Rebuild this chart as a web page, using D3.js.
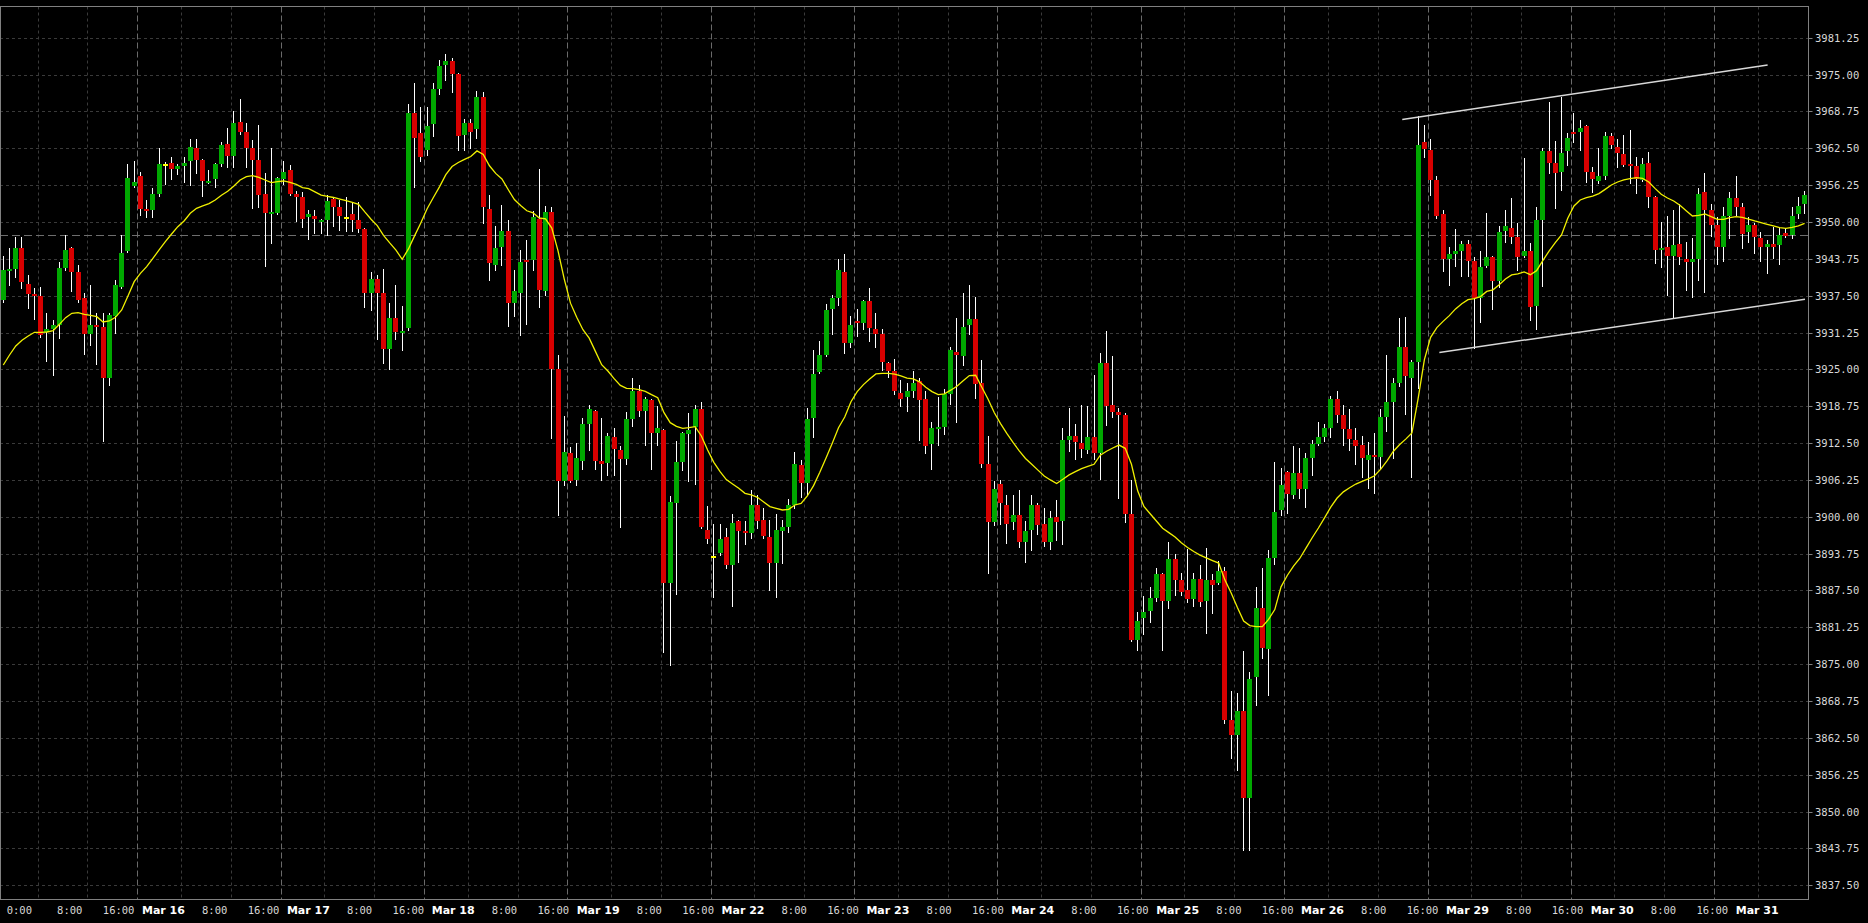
<!DOCTYPE html>
<html>
<head>
<meta charset="utf-8">
<script src="https://cdn.jsdelivr.net/npm/d3@7"></script>
<style>
  html, body { margin: 0; padding: 0; background: #000; }
  svg { display: block; }
</style>
</head>
<body>
<svg id="chart" width="1868" height="923"></svg>
<script>
// ---------------- DATA (hourly bars) ----------------
const opens = [
3936.77,3941.74,3942.03,3945.59,3939.48,3937.79,3937.45,3931.29,3931.85,3932.53,
3942.14,3945.59,3941.58,3937.05,3931.00,3932.53,3932.14,3923.60,3934.06,3939.03,
3945.14,3956.10,3957.80,3952.26,3952.03,3954.75,3959.83,3960.00,3959.04,3959.55,
3960.40,3962.55,3960.51,3956.67,3957.29,3959.83,3963.23,3961.19,3966.96,3965.32,
3962.60,3960.51,3954.75,3951.35,3951.58,3957.35,3958.82,3954.75,3954.18,3950.88,
3951.08,3949.99,3950.40,3953.81,3952.51,3950.88,3951.36,3950.40,3948.83,3937.93,
3940.32,3937.93,3928.39,3933.71,3931.25,3931.94,3968.46,3965.05,3962.12,3966.55,
3972.55,3976.57,3977.32,3975.07,3964.78,3966.75,3965.73,3971.18,3952.17,3942.70,
3945.77,3948.49,3936.23,3937.93,3943.59,3943.52,3950.54,3938.27,3951.70,3924.99,
3906.04,3910.81,3906.25,3909.45,3915.79,3917.97,3909.45,3909.06,3913.47,3911.33,
3909.86,3916.58,3921.33,3917.99,3919.81,3914.27,3914.72,3888.83,3902.39,3909.29,
3914.04,3915.28,3918.28,3897.76,3893.41,3893.80,3896.52,3891.83,3899.28,3897.59,
3897.25,3901.99,3899.45,3896.63,3892.11,3897.65,3898.32,3901.99,3908.78,3905.67,
3916.81,3924.61,3927.44,3935.24,3937.05,3941.57,3929.53,3933.20,3932.81,3936.59,
3931.79,3930.99,3926.02,3924.72,3920.94,3920.36,3921.35,3923.08,3919.99,3912.41,
3914.88,3915.31,3920.86,3927.95,3927.33,3932.57,3933.56,3922.71,3908.90,3899.03,
3905.63,3901.93,3899.03,3900.27,3895.64,3897.80,3901.93,3898.73,3895.77,3899.90,
3899.34,3913.03,3913.65,3912.53,3911.36,3913.46,3910.87,3926.16,3918.89,3917.78,
3917.28,3900.39,3879.12,3882.82,3884.05,3886.21,3890.22,3885.72,3892.87,3889.29,
3887.57,3886.09,3889.41,3885.66,3889.25,3888.73,3890.74,3865.52,3862.97,3867.09,
3852.37,3872.79,3884.61,3877.60,3892.93,3901.08,3907.56,3903.71,3907.39,3904.76,
3910.02,3912.38,3913.52,3915.10,3919.92,3917.29,3914.83,3912.99,3912.12,3909.58,
3910.45,3910.19,3916.85,3919.48,3922.73,3928.85,3923.60,3926.22,3963.63,3962.14,
3957.06,3951.36,3943.65,3944.53,3945.06,3946.28,3943.30,3937.17,3942.60,3944.09,
3939.97,3948.52,3948.92,3947.39,3944.23,3945.08,3935.75,3950.33,3962.03,3960.06,
3958.53,3962.09,3965.31,3965.31,3966.27,3958.53,3957.00,3957.79,3964.58,3962.66,
3961.53,3959.83,3959.49,3957.12,3959.94,3954.29,3945.25,3945.81,3944.23,3946.26,
3943.66,3943.27,3943.72,3955.03,3952.03,3949.49,3945.81,3951.01,3954.12,3952.59,
3948.35,3949.49,3947.34,3945.70,3946.26,3946.09,3948.07,3947.79,3951.35,3953.05];

const highs = [
3944.23,3945.53,3947.40,3947.40,3941.01,3938.75,3938.92,3934.51,3933.38,3943.27,
3947.79,3945.82,3942.71,3937.90,3939.31,3934.51,3934.62,3934.62,3940.16,3947.79,
3959.83,3960.40,3958.53,3953.73,3955.71,3962.49,3960.23,3961.08,3959.83,3961.08,
3964.02,3964.02,3960.63,3958.82,3959.95,3963.62,3965.88,3968.82,3970.80,3966.84,
3963.90,3966.45,3958.37,3962.49,3957.57,3960.34,3959.66,3955.26,3955.14,3952.11,
3952.04,3950.54,3954.63,3954.29,3953.74,3954.15,3953.26,3953.40,3949.04,3941.47,
3941.00,3942.02,3936.23,3939.30,3935.75,3970.09,3973.57,3969.48,3969.48,3973.57,
3977.45,3978.47,3977.79,3975.30,3967.44,3967.44,3972.21,3972.00,3954.63,3949.31,
3952.92,3950.33,3941.88,3945.29,3946.93,3951.90,3958.92,3952.79,3952.58,3927.37,
3917.01,3911.90,3912.58,3916.81,3918.99,3918.17,3916.67,3914.27,3915.11,3912.00,
3917.83,3923.59,3922.35,3920.30,3920.00,3918.84,3914.90,3903.52,3912.91,3914.44,
3917.54,3918.96,3919.41,3901.83,3898.78,3898.78,3898.04,3900.47,3899.40,3899.28,
3904.54,3903.70,3901.43,3899.45,3900.47,3899.45,3902.96,3910.93,3909.63,3918.39,
3928.28,3929.87,3936.09,3937.61,3943.72,3944.57,3934.05,3935.18,3936.76,3938.74,
3934.62,3931.79,3926.31,3926.76,3923.20,3922.71,3924.74,3923.51,3921.35,3915.99,
3920.24,3921.66,3928.75,3933.68,3938.00,3939.30,3937.20,3926.59,3913.65,3906.12,
3906.25,3903.66,3903.66,3904.58,3899.28,3903.66,3902.42,3901.50,3901.01,3902.86,
3915.06,3918.45,3915.80,3918.89,3918.76,3924.00,3927.70,3931.52,3927.21,3918.39,
3917.65,3906.25,3883.87,3886.52,3888.06,3891.27,3890.53,3895.77,3893.61,3890.53,
3894.53,3890.40,3891.76,3894.69,3890.30,3892.50,3891.44,3870.42,3870.16,3877.17,
3873.66,3888.12,3891.36,3894.42,3909.32,3908.26,3907.82,3911.94,3911.59,3910.89,
3913.08,3916.15,3915.71,3920.53,3921.40,3918.95,3918.34,3915.10,3913.69,3912.64,
3914.22,3918.34,3927.36,3923.60,3933.67,3933.93,3926.66,3968.00,3966.52,3964.07,
3957.76,3952.06,3945.76,3948.82,3946.81,3946.98,3944.00,3945.06,3951.45,3944.20,
3949.26,3952.03,3954.01,3949.77,3960.79,3946.38,3952.59,3962.49,3970.40,3963.73,
3971.25,3965.03,3968.42,3967.29,3966.44,3959.27,3962.49,3965.31,3965.03,3964.01,
3964.75,3965.60,3961.08,3960.79,3961.92,3954.40,3949.94,3951.01,3952.03,3953.05,
3946.66,3947.22,3955.70,3958.25,3953.05,3950.90,3952.59,3955.14,3957.79,3953.16,
3950.90,3949.88,3948.35,3946.94,3949.20,3949.20,3948.92,3952.59,3954.18,3955.31];

const lows = [
3936.49,3939.31,3940.73,3938.75,3935.36,3933.49,3930.55,3926.42,3924.05,3930.38,
3941.86,3938.35,3936.49,3927.61,3929.14,3925.92,3912.92,3922.35,3931.23,3938.80,
3944.90,3955.99,3951.19,3950.90,3950.90,3954.41,3956.44,3957.23,3958.14,3956.84,
3956.27,3958.37,3954.41,3956.56,3955.88,3959.49,3959.38,3959.38,3964.92,3959.27,
3952.43,3952.60,3942.54,3946.49,3951.35,3956.44,3954.58,3950.22,3949.20,3947.13,
3948.15,3948.15,3947.81,3949.38,3948.70,3948.42,3948.49,3948.29,3935.55,3935.00,
3930.23,3926.14,3924.99,3930.23,3928.26,3931.70,3955.99,3960.42,3961.44,3964.51,
3971.66,3974.05,3972.00,3962.12,3962.12,3962.46,3964.17,3949.86,3940.18,3941.88,
3942.70,3932.35,3933.98,3930.91,3932.62,3941.88,3935.55,3937.59,3913.40,3900.32,
3905.36,3905.91,3905.36,3908.09,3911.36,3908.09,3906.25,3907.09,3907.09,3898.32,
3908.90,3915.45,3917.09,3912.17,3908.10,3912.17,3877.12,3874.86,3886.91,3907.93,
3906.13,3905.56,3898.04,3895.50,3886.45,3893.52,3891.37,3884.93,3892.39,3895.38,
3896.46,3898.04,3896.46,3887.58,3886.45,3892.22,3897.48,3901.43,3903.41,3903.69,
3913.59,3924.33,3927.20,3931.00,3935.92,3927.83,3928.74,3930.66,3931.79,3929.87,
3928.74,3924.89,3923.76,3920.82,3918.84,3917.96,3920.24,3913.03,3910.87,3908.10,
3912.23,3914.08,3919.19,3916.11,3925.67,3931.00,3920.12,3908.40,3890.40,3898.54,
3898.85,3895.58,3897.92,3894.84,3892.25,3894.41,3897.00,3895.03,3894.53,3896.07,
3895.46,3911.18,3909.76,3910.13,3910.75,3909.76,3906.43,3915.49,3916.91,3903.16,
3899.16,3878.90,3877.46,3880.17,3882.20,3885.72,3877.46,3884.49,3886.70,3886.70,
3885.59,3884.85,3884.85,3880.23,3883.73,3888.55,3865.08,3859.03,3857.02,3843.44,
3843.44,3868.14,3876.03,3869.72,3892.06,3900.38,3900.56,3903.18,3903.18,3901.69,
3907.12,3912.21,3912.82,3913.52,3916.15,3912.21,3911.33,3908.96,3906.69,3904.93,
3904.06,3908.26,3914.57,3910.02,3922.11,3917.46,3906.69,3921.84,3961.00,3954.52,
3950.75,3941.73,3939.36,3942.60,3940.85,3940.85,3928.67,3932.97,3942.40,3935.16,
3938.92,3946.66,3946.49,3941.85,3944.00,3933.38,3931.79,3939.14,3958.25,3952.43,
3955.42,3959.66,3963.62,3962.20,3956.83,3955.03,3956.55,3957.23,3962.49,3959.27,
3959.49,3956.55,3954.97,3956.95,3952.59,3943.10,3942.42,3937.61,3933.66,3942.87,
3938.46,3937.33,3940.16,3938.18,3947.62,3942.87,3943.44,3947.22,3951.18,3945.64,
3946.66,3944.68,3943.38,3941.40,3943.83,3942.87,3947.51,3947.22,3950.62,3951.58];

const closes = [
3941.86,3942.03,3945.59,3939.88,3937.79,3937.45,3930.83,3931.85,3932.53,3942.14,
3945.25,3941.58,3936.77,3931.00,3932.53,3932.19,3923.60,3934.23,3939.31,3944.80,
3957.52,3956.84,3952.26,3951.92,3954.75,3959.83,3959.83,3958.99,3959.50,3960.00,
3962.66,3960.51,3957.01,3957.01,3959.83,3963.05,3961.19,3966.84,3965.32,3962.60,
3960.51,3954.58,3951.58,3951.69,3957.40,3958.48,3954.75,3954.18,3950.56,3951.36,
3950.47,3950.33,3953.54,3952.51,3951.08,3950.88,3950.40,3948.83,3937.93,3940.32,
3937.93,3928.53,3933.71,3931.32,3931.53,3968.46,3964.17,3961.10,3966.35,3972.55,
3976.43,3977.32,3975.07,3964.64,3966.75,3965.32,3971.18,3952.58,3943.04,3945.56,
3948.49,3936.23,3938.27,3943.18,3943.18,3950.88,3938.48,3951.70,3924.99,3906.04,
3911.01,3906.04,3909.99,3915.79,3918.31,3909.45,3908.97,3913.70,3911.44,3909.86,
3916.58,3921.33,3917.99,3919.97,3914.27,3915.06,3888.83,3902.51,3909.29,3914.15,
3914.66,3918.28,3898.21,3896.18,3893.41,3896.23,3891.83,3898.89,3897.65,3897.25,
3901.99,3899.34,3896.80,3892.11,3897.76,3898.21,3901.99,3908.95,3905.67,3916.58,
3924.21,3927.44,3935.07,3937.05,3941.85,3929.53,3932.52,3932.92,3936.59,3932.07,
3930.99,3926.31,3924.78,3921.39,3919.97,3921.35,3922.71,3919.81,3911.98,3915.06,
3915.31,3920.74,3928.26,3927.52,3932.26,3933.56,3922.58,3909.02,3899.03,3904.70,
3902.42,3898.85,3900.27,3895.64,3897.61,3901.93,3898.54,3895.77,3899.77,3899.03,
3913.03,3913.65,3912.60,3911.49,3913.46,3910.87,3926.16,3918.76,3917.84,3917.28,
3900.39,3879.12,3882.39,3883.93,3886.21,3890.22,3885.72,3892.87,3889.29,3887.26,
3886.09,3889.41,3885.59,3889.25,3888.38,3890.74,3865.52,3862.97,3867.09,3852.37,
3872.52,3884.61,3877.78,3892.93,3900.82,3905.46,3903.88,3907.39,3904.76,3910.02,
3912.38,3913.52,3915.10,3919.92,3917.29,3914.83,3913.26,3911.94,3910.02,3910.45,
3910.10,3916.85,3919.48,3922.73,3928.85,3923.86,3926.22,3963.01,3962.40,3957.06,
3951.01,3943.65,3944.53,3945.06,3946.28,3943.30,3937.17,3942.43,3944.09,3939.97,
3948.38,3949.32,3947.51,3944.12,3945.08,3935.64,3950.33,3962.03,3960.06,3958.36,
3961.64,3964.18,3965.03,3965.88,3958.53,3957.29,3957.79,3964.58,3963.05,3961.75,
3959.66,3959.49,3957.23,3959.83,3954.29,3945.25,3945.64,3944.23,3946.09,3944.12,
3943.27,3943.72,3954.74,3952.03,3949.49,3945.70,3951.01,3954.12,3952.59,3947.96,
3949.49,3947.51,3945.70,3946.26,3945.81,3947.79,3947.68,3951.01,3952.71,3954.57];

// moving average line (yellow), one value per bar
const maValues = [
3925.74,3927.44,3928.97,3929.93,3930.66,3931.29,3931.29,3931.34,3931.57,3932.64,
3933.77,3934.51,3934.62,3934.34,3934.17,3933.94,3933.04,3933.21,3933.83,3935.07,
3937.45,3939.88,3941.29,3942.42,3943.83,3945.25,3946.66,3947.96,3949.20,3950.17,
3951.47,3952.31,3952.71,3953.10,3953.73,3954.52,3955.20,3956.10,3957.12,3957.68,
3957.85,3957.57,3957.12,3956.67,3956.84,3956.95,3956.72,3956.38,3955.82,3955.65,
3955.10,3954.56,3954.35,3954.15,3953.88,3953.60,3953.33,3952.99,3951.70,3950.47,
3949.38,3947.74,3946.45,3945.22,3943.66,3945.43,3947.68,3949.86,3952.24,3954.15,
3955.99,3958.03,3959.40,3960.08,3960.62,3961.10,3962.05,3961.44,3959.53,3958.24,
3957.28,3955.51,3953.81,3952.79,3951.90,3951.56,3950.67,3950.54,3948.97,3945.09,
3940.32,3936.23,3933.84,3931.73,3930.30,3928.05,3925.80,3924.72,3923.42,3922.29,
3921.78,3921.73,3921.56,3921.28,3920.71,3920.20,3917.66,3915.96,3915.34,3915.00,
3915.11,3915.28,3913.70,3911.33,3909.23,3907.65,3906.30,3905.56,3904.83,3903.98,
3903.70,3903.30,3902.51,3901.72,3901.43,3901.15,3901.26,3902.00,3902.28,3903.53,
3905.28,3907.54,3909.97,3912.46,3915.11,3916.92,3919.52,3921.22,3922.41,3923.37,
3924.22,3924.33,3924.33,3924.21,3923.88,3923.51,3923.39,3922.89,3921.97,3921.23,
3920.73,3920.86,3921.47,3922.15,3923.08,3923.94,3924.00,3921.97,3919.93,3917.65,
3915.80,3914.14,3912.60,3911.18,3909.88,3908.90,3907.91,3906.92,3906.25,3905.63,
3906.37,3907.11,3907.67,3908.16,3908.53,3908.90,3910.44,3911.12,3911.67,3912.16,
3911.61,3908.90,3904.40,3901.75,3900.51,3899.28,3898.05,3897.31,3896.57,3895.58,
3894.78,3894.10,3893.49,3893.02,3892.58,3892.15,3889.26,3887.06,3884.61,3882.33,
3881.54,3881.37,3881.37,3882.60,3884.26,3888.12,3890.04,3891.62,3892.93,3894.69,
3896.44,3898.10,3899.85,3901.69,3903.18,3904.23,3904.93,3905.55,3905.99,3906.42,
3906.95,3908.09,3909.49,3911.07,3912.21,3913.17,3914.22,3920.09,3926.66,3930.43,
3932.09,3933.14,3934.11,3935.25,3936.12,3936.82,3937.00,3937.35,3938.22,3938.49,
3939.36,3940.33,3941.01,3941.18,3941.52,3941.06,3941.74,3943.44,3945.07,3946.49,
3947.79,3950.62,3952.71,3953.73,3954.12,3954.40,3954.80,3955.53,3956.27,3956.78,
3957.12,3957.34,3957.51,3957.40,3956.78,3955.70,3954.69,3954.06,3953.56,3952.82,
3951.92,3951.01,3951.13,3951.35,3950.90,3950.45,3950.45,3950.73,3950.90,3950.79,
3950.50,3950.17,3949.88,3949.60,3949.32,3949.03,3948.92,3949.09,3949.32,3949.77];

// price axis ticks
const priceTicks = [3837.50,3843.75,3850.00,3856.25,3862.50,3868.75,3875.00,3881.25,
  3887.50,3893.75,3900.00,3906.25,3912.50,3918.75,3925.00,3931.25,3937.50,3943.75,
  3950.00,3956.25,3962.50,3968.75,3975.00,3981.25];

// time axis labels: one day per group of three (session start, 8:00, 16:00)
const timeLabels = ["0:00","8:00","16:00","Mar 16","8:00","16:00","Mar 17","8:00","16:00",
  "Mar 18","8:00","16:00","Mar 19","8:00","16:00","Mar 22","8:00","16:00","Mar 23","8:00","16:00",
  "Mar 24","8:00","16:00","Mar 25","8:00","16:00","Mar 26","8:00","16:00","Mar 29","8:00","16:00",
  "Mar 30","8:00","16:00","Mar 31"];

// trading days in view (bars per session) and session boundaries in bar units
const barsPerDay = 23;
const firstDayStartBar = -1.5;
const sessionCount = 13;

// drawn objects: channel lines [barIndex, price] and a horizontal level
const channelUpper = [[224.45, 3967.39], [283.07, 3976.62]];
const channelLower = [[230.40, 3927.87], [289.06, 3936.88]];
const levelLine = 3947.79;

// ---------------- LAYOUT ----------------
const W = 1868, H = 923;
const plotLeft = 0, plotRight = 1808.5, plotTop = 6.5, plotBottom = 899.5;

const svg = d3.select("#chart");
svg.append("rect").attr("width", W).attr("height", H).attr("fill", "#000");

const n = opens.length;
const x = d3.scaleLinear().domain([0, n - 1]).range([3.3, 1804.6]);
const y = d3.scaleLinear().domain([3837.5, 3981.25]).range([885.3, 37.7]);

const defs = svg.append("defs");
defs.append("clipPath").attr("id", "plotClip").append("rect")
  .attr("x", plotLeft).attr("y", plotTop).attr("width", plotRight - plotLeft).attr("height", plotBottom - plotTop);

const gGrid = svg.append("g");
// horizontal grid
gGrid.selectAll("line.h").data(priceTicks).enter().append("line")
  .attr("x1", plotLeft).attr("x2", plotRight)
  .attr("y1", d => Math.round(y(d)) + 0.5).attr("y2", d => Math.round(y(d)) + 0.5)
  .attr("stroke", "#3a3a3a").attr("stroke-dasharray", "3,3").attr("stroke-width", 1);

// vertical grid: session boundaries (bright) + two intraday lines
const vgrid = [];
for (let k = 0; k < sessionCount; k++) {
  const b = firstDayStartBar + barsPerDay * k;
  if (k > 0) vgrid.push({ bar: b, major: true });
  vgrid.push({ bar: b + 7, major: false });
  vgrid.push({ bar: b + 15, major: false });
}
gGrid.selectAll("line.v").data(vgrid.filter(d => x(d.bar) > 2 && x(d.bar) < plotRight - 3)).enter().append("line")
  .attr("x1", d => Math.round(x(d.bar)) + 0.5).attr("x2", d => Math.round(x(d.bar)) + 0.5)
  .attr("y1", plotTop).attr("y2", plotBottom)
  .attr("stroke", d => d.major ? "#6a6a6a" : "#3a3a3a")
  .attr("stroke-dasharray", d => d.major ? "6,3" : "3,3");

// horizontal level (dashed)
svg.append("line")
  .attr("x1", plotLeft).attr("x2", plotRight)
  .attr("y1", Math.round(y(levelLine)) + 0.5).attr("y2", Math.round(y(levelLine)) + 0.5)
  .attr("stroke", "#6e6e6e").attr("stroke-dasharray", "8,4");

// candles
const bars = d3.range(n).map(i => ({ i, o: opens[i], h: highs[i], l: lows[i], c: closes[i] }));
const gC = svg.append("g").attr("clip-path", "url(#plotClip)");
const bodyW = 5;
gC.selectAll("line.wick").data(bars).enter().append("line")
  .attr("x1", d => Math.round(x(d.i) - bodyW / 2) + 2.5)
  .attr("x2", d => Math.round(x(d.i) - bodyW / 2) + 2.5)
  .attr("y1", d => Math.round(y(d.h)))
  .attr("y2", d => Math.round(y(d.l)) + 1)
  .attr("stroke", "#ffffff").attr("stroke-width", 1)
  .attr("shape-rendering", "crispEdges");
gC.selectAll("rect.body").data(bars).enter().append("rect")
  .attr("x", d => Math.round(x(d.i) - bodyW / 2))
  .attr("width", bodyW)
  .attr("y", d => Math.round(y(Math.max(d.o, d.c))))
  .attr("height", d => Math.max(2, Math.round(y(Math.min(d.o, d.c))) - Math.round(y(Math.max(d.o, d.c)))))
  .attr("fill", d => d.c > d.o ? "#00a800" : (d.c < d.o ? "#d80000" : "#ffff00"))
  .attr("shape-rendering", "crispEdges");

// moving average
const maLine = d3.line().x((d, i) => x(i)).y(d => y(d));
gC.append("path").datum(maValues).attr("d", maLine)
  .attr("fill", "none").attr("stroke", "#f0f000").attr("stroke-width", 1.3);

// channel lines
const tl = d3.line().x(d => x(d[0])).y(d => y(d[1]));
[channelUpper, channelLower].forEach(c => {
  gC.append("path").datum(c).attr("d", tl)
    .attr("fill", "none").attr("stroke", "#d8d8d8").attr("stroke-width", 1.5);
});

// frame
svg.append("rect").attr("x", 0.5).attr("y", plotTop).attr("width", plotRight - 0.5).attr("height", plotBottom - plotTop)
  .attr("fill", "none").attr("stroke", "#808080").attr("stroke-width", 1);

// right price axis
const gY = svg.append("g");
gY.selectAll("line.tick").data(priceTicks).enter().append("line")
  .attr("x1", plotRight).attr("x2", plotRight + 4)
  .attr("y1", d => Math.round(y(d)) + 0.5).attr("y2", d => Math.round(y(d)) + 0.5)
  .attr("stroke", "#808080");
gY.selectAll("text").data(priceTicks).enter().append("text")
  .attr("x", 1815).attr("y", d => y(d) + 4)
  .attr("fill", "#d8d8d8")
  .attr("font-family", "'DejaVu Sans Mono', monospace")
  .attr("font-size", "10.5px")
  .text(d => d3.format(".2f")(d));

// bottom time axis
const dayX = d3.scaleLinear().domain([0, 12]).range([-2.88, 1735.7]);
const slotOffset = [0, 60, 105.7];
const gX = svg.append("g");
gX.selectAll("text").data(timeLabels).enter().append("text")
  .attr("x", (d, k) => Math.max(6.7, dayX(Math.floor(k / 3)) + slotOffset[k % 3]))
  .attr("y", 914)
  .attr("fill", (d, k) => (k % 3 === 0 && k > 0) ? "#ffffff" : "#d8d8d8")
  .attr("font-family", (d, k) => (k % 3 === 0 && k > 0) ? "'DejaVu Sans', sans-serif" : "'DejaVu Sans Mono', monospace")
  .attr("font-weight", (d, k) => (k % 3 === 0 && k > 0) ? "bold" : "normal")
  .attr("font-size", (d, k) => (k % 3 === 0 && k > 0) ? "11px" : "10.5px")
  .text(d => d);
</script>
</body>
</html>
